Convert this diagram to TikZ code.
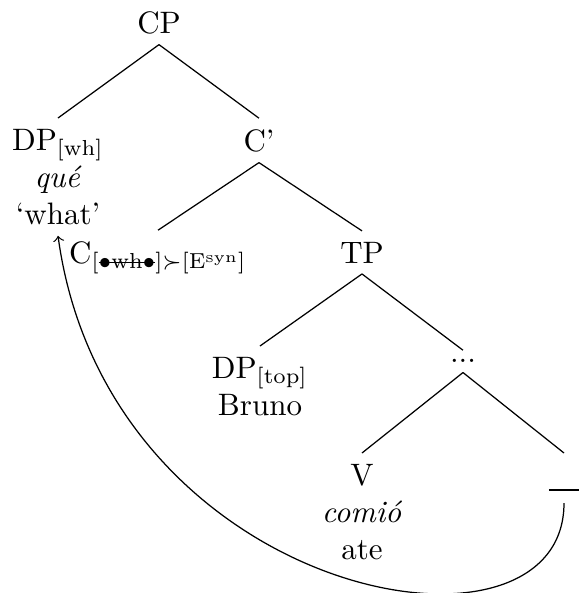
\documentclass[tikz,border=0pt]{standalone}
\usepackage{amsmath}
\usepackage{fontspec}
\newcommand{\myStrike}[1]{\setbox0\hbox{#1}\rlap{\rule[0.55ex]{\wd0}{0.4pt}}\box0}
\begin{document}
\begin{tikzpicture}[x=0.3226pt,y=-0.3226pt,
  tn/.style={inner sep=3.33pt, align=center},
  edge/.style={line width=0.4pt}]
\useasboundingbox (0,0) rectangle (578,593);
\node[tn, anchor=base] (CP) at (159,33) {CP};
\node[tn, anchor=north] (DPwh) at (58,118) {DP$_{\mathrm{[wh]}}$\\\textit{qué}\\`what'};
\node[tn, anchor=base] (Cbar) at (259,151) {C'};
\node[tn, anchor=base] (C) at (158,263) {C$_{[\text{\myStrike{$\bullet$wh$\bullet$}}]\succ[\mathrm{E}^{\mathrm{syn}}]}$};
\node[tn, anchor=base] (TP) at (362,263) {TP};
\node[tn, anchor=north] (DPtop) at (260,346) {DP$_{\mathrm{[top]}}$\\Bruno};
\node[inner sep=1pt, text height=2.6pt, text depth=2.2pt, anchor=base] (dots) at (463,362) {...};
\node[tn, anchor=north] (V) at (362,453) {V\\\textit{comió}\\ate};
\node[inner sep=0pt, text height=11.9pt, text depth=3.9pt, anchor=north] (tr) at (564,453) {\rule{9.7pt}{0.4pt}};
\draw[edge] (CP.south) -- (DPwh.north);
\draw[edge] (CP.south) -- (Cbar.north);
\draw[edge] (Cbar.south) -- (C.north);
\draw[edge] (Cbar.south) -- (TP.north);
\draw[edge] (TP.south) -- (DPtop.north);
\draw[edge] (TP.south) -- (dots.north);
\draw[edge] (dots.south) -- (V.north);
\draw[edge] (dots.south) -- (tr.north);
\draw[edge,->] (tr.south) .. controls +(0,178) and +(50,364) .. (DPwh.south);
\end{tikzpicture}
\end{document}
